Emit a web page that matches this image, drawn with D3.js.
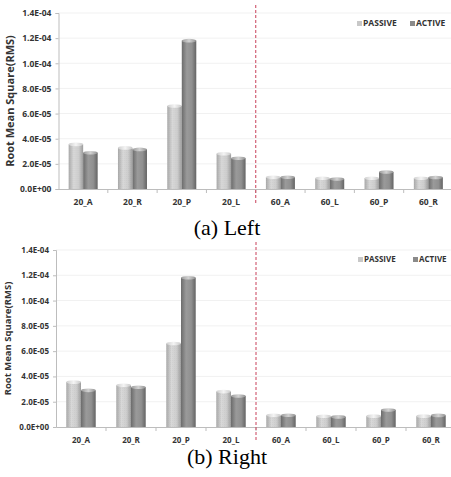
<!DOCTYPE html>
<html>
<head>
<meta charset="utf-8">
<script src="https://cdn.jsdelivr.net/npm/d3@7"></script>
<style>
  body { margin: 0; background: #fff; }
  svg { display: block; }
</style>
</head>
<body>
<div id="chart"></div>
<script>
// data
const categories = ['20_A', '20_R', '20_P', '20_L', '60_A', '60_L', '60_P', '60_R'];
const seriesNames = ['PASSIVE', 'ACTIVE'];
const passiveLeft = [3.55e-5, 3.27e-5, 6.6e-5, 2.8e-5, 9.3e-6, 8.5e-6, 8.6e-6, 8.6e-6];
const activeLeft = [2.88e-5, 3.15e-5, 1.18e-4, 2.45e-5, 9.3e-6, 8.0e-6, 1.35e-5, 9.2e-6];
const passiveRight = [3.55e-5, 3.3e-5, 6.6e-5, 2.8e-5, 9.3e-6, 8.5e-6, 8.6e-6, 8.6e-6];
const activeRight = [2.9e-5, 3.15e-5, 1.18e-4, 2.45e-5, 9.3e-6, 8.0e-6, 1.35e-5, 9.2e-6];
const yTicks = [0, 2e-5, 4e-5, 6e-5, 8e-5, 1e-4, 1.2e-4, 1.4e-4];

const width = 451, height = 477;
const svg = d3.select('#chart').append('svg')
  .attr('width', width)
  .attr('height', height);

// gradients for the cylinder look
const defs = svg.append('defs');
function hGrad(id, stops) {
  const g = defs.append('linearGradient').attr('id', id)
    .attr('x1', 0).attr('x2', 1).attr('y1', 0).attr('y2', 0);
  stops.forEach(s => g.append('stop').attr('offset', s[0]).attr('stop-color', s[1]));
}
hGrad('g-passive', [[0, '#a9a9a9'], [0.35, '#d8d8d8'], [0.7, '#cdcdcd'], [1, '#9d9d9d']]);
hGrad('g-active', [[0, '#6c6c6c'], [0.35, '#9a9a9a'], [0.7, '#909090'], [1, '#646464']]);
hGrad('c-passive', [[0, '#cfcfcf'], [0.5, '#f4f4f4'], [1, '#c9c9c9']]);
hGrad('c-active', [[0, '#9a9a9a'], [0.5, '#d2d2d2'], [1, '#929292']]);

// faint dotted texture on passive bars
const pat = defs.append('pattern').attr('id', 'dots')
  .attr('width', 2).attr('height', 2).attr('patternUnits', 'userSpaceOnUse');
pat.append('rect').attr('width', 1).attr('height', 1).attr('fill', '#000').attr('opacity', 0.025);

function fmtSci(v) {
  if (v === 0) return '0.0E+00';
  const parts = v.toExponential(1).split('e');
  const e = parseInt(parts[1]);
  return parts[0] + 'E' + (e < 0 ? '-' : '+') + String(Math.abs(e)).padStart(2, '0');
}

function drawChart(cfg) {
  const g = svg.append('g');

  const x = d3.scaleBand().domain(categories).range([cfg.left, cfg.right]);
  const xi = d3.scaleBand().domain(seriesNames).range([0, x.bandwidth()]).paddingOuter(0.7);
  const y = d3.scaleLinear().domain([0, 1.4e-4]).range([cfg.bottom, cfg.top]);

  // faint gridlines
  g.selectAll('.grid')
    .data(yTicks.slice(1))
    .join('line')
    .attr('x1', cfg.left).attr('x2', cfg.right)
    .attr('y1', d => y(d)).attr('y2', d => y(d))
    .attr('stroke', '#f1f1f1').attr('stroke-width', 1);

  // y axis
  const yAxis = g.append('g')
    .attr('transform', `translate(${cfg.left},0)`)
    .call(d3.axisLeft(y).tickValues(yTicks).tickFormat(fmtSci).tickSize(3).tickPadding(4));
  yAxis.select('.domain').attr('stroke', '#bdbdbd');
  yAxis.selectAll('.tick line').attr('stroke', '#bdbdbd');
  yAxis.selectAll('text')
    .attr('fill', '#333')
    .style('font-family', 'Open Sans, sans-serif')
    .style('font-weight', 'bold')
    .style('font-size', cfg.tickFont + 'px');

  // x axis
  const xAxis = g.append('g')
    .attr('transform', `translate(0,${cfg.bottom})`)
    .call(d3.axisBottom(x).tickSize(0).tickPadding(cfg.xPad));
  xAxis.select('.domain').attr('stroke', '#bdbdbd');
  xAxis.selectAll('text')
    .attr('fill', '#333')
    .style('font-family', 'Open Sans, sans-serif')
    .style('font-weight', 'bold')
    .style('font-size', cfg.tickFont + 'px');
  g.selectAll('.xtick')
    .data(categories.slice(1))
    .join('line')
    .attr('x1', d => x(d)).attr('x2', d => x(d))
    .attr('y1', cfg.bottom).attr('y2', cfg.bottom + 4)
    .attr('stroke', '#bdbdbd');

  // bars
  const rows = categories.map((c, i) => ({ cat: c, vals: [cfg.passive[i], cfg.active[i]] }));
  const grp = g.selectAll('.grp')
    .data(rows)
    .join('g')
    .attr('transform', d => `translate(${x(d.cat)},0)`);
  const bars = grp.selectAll('.bar')
    .data(d => d.vals.map((v, k) => ({ s: seriesNames[k], v })))
    .join('g');
  bars.append('rect')
    .attr('x', d => xi(d.s))
    .attr('width', xi.bandwidth())
    .attr('y', d => y(d.v))
    .attr('height', d => cfg.bottom - y(d.v))
    .attr('fill', d => d.s === 'PASSIVE' ? 'url(#g-passive)' : 'url(#g-active)');
  bars.filter(d => d.s === 'PASSIVE').append('rect')
    .attr('x', d => xi(d.s))
    .attr('width', xi.bandwidth())
    .attr('y', d => y(d.v))
    .attr('height', d => cfg.bottom - y(d.v))
    .attr('fill', 'url(#dots)');
  bars.append('ellipse')
    .attr('cx', d => xi(d.s) + xi.bandwidth() / 2)
    .attr('cy', d => y(d.v))
    .attr('rx', xi.bandwidth() / 2)
    .attr('ry', 1.8)
    .attr('fill', d => d.s === 'PASSIVE' ? 'url(#c-passive)' : 'url(#c-active)');

  // red dashed separator between 20_ and 60_ groups
  g.append('line')
    .attr('x1', x('60_A')).attr('x2', x('60_A'))
    .attr('y1', cfg.top - 8).attr('y2', cfg.bottom + 14)
    .attr('stroke', '#c8405a')
    .attr('stroke-width', 1)
    .attr('stroke-dasharray', '3,2');

  // y axis title
  g.append('text')
    .attr('transform', `translate(${cfg.titleX},${(cfg.top + cfg.bottom) / 2}) rotate(-90)`)
    .attr('text-anchor', 'middle')
    .attr('fill', '#333')
    .style('font-family', 'Open Sans, sans-serif')
    .style('font-weight', 'bold')
    .style('font-size', cfg.titleFont + 'px')
    .text('Root Mean Square(RMS)');

  // legend
  const leg = g.selectAll('.leg')
    .data(seriesNames)
    .join('g')
    .attr('transform', (d, i) => `translate(${cfg.legendX[i]},${cfg.legendY})`);
  leg.append('rect')
    .attr('x', 0).attr('y', -5)
    .attr('width', 5).attr('height', 5)
    .attr('fill', d => d === 'PASSIVE' ? '#c8c8c8' : '#8a8a8a');
  leg.append('text')
    .attr('x', 6).attr('y', 0)
    .attr('fill', '#333')
    .style('font-family', 'Open Sans, sans-serif')
    .style('font-weight', 'bold')
    .style('font-size', cfg.tickFont + 'px')
    .text(d => d);

  // caption
  svg.append('text')
    .attr('x', 227).attr('y', cfg.captionY)
    .attr('text-anchor', 'middle')
    .attr('fill', '#000')
    .style('font-family', 'Liberation Serif, Times New Roman, serif')
    .style('font-size', '22px')
    .text(cfg.caption);
}

drawChart({
  left: 58.5, right: 453, top: 13, bottom: 189,
  passive: passiveLeft, active: activeLeft,
  tickFont: 8.5, titleFont: 11, titleX: 14, xPad: 10,
  legendX: [357, 410], legendY: 26,
  caption: '(a) Left', captionY: 235
});

drawChart({
  left: 56, right: 456, top: 250, bottom: 427,
  passive: passiveRight, active: activeRight,
  tickFont: 8, titleFont: 9.5, titleX: 11, xPad: 10,
  legendX: [358, 413], legendY: 262,
  caption: '(b) Right', captionY: 464
});
</script>
</body>
</html>
